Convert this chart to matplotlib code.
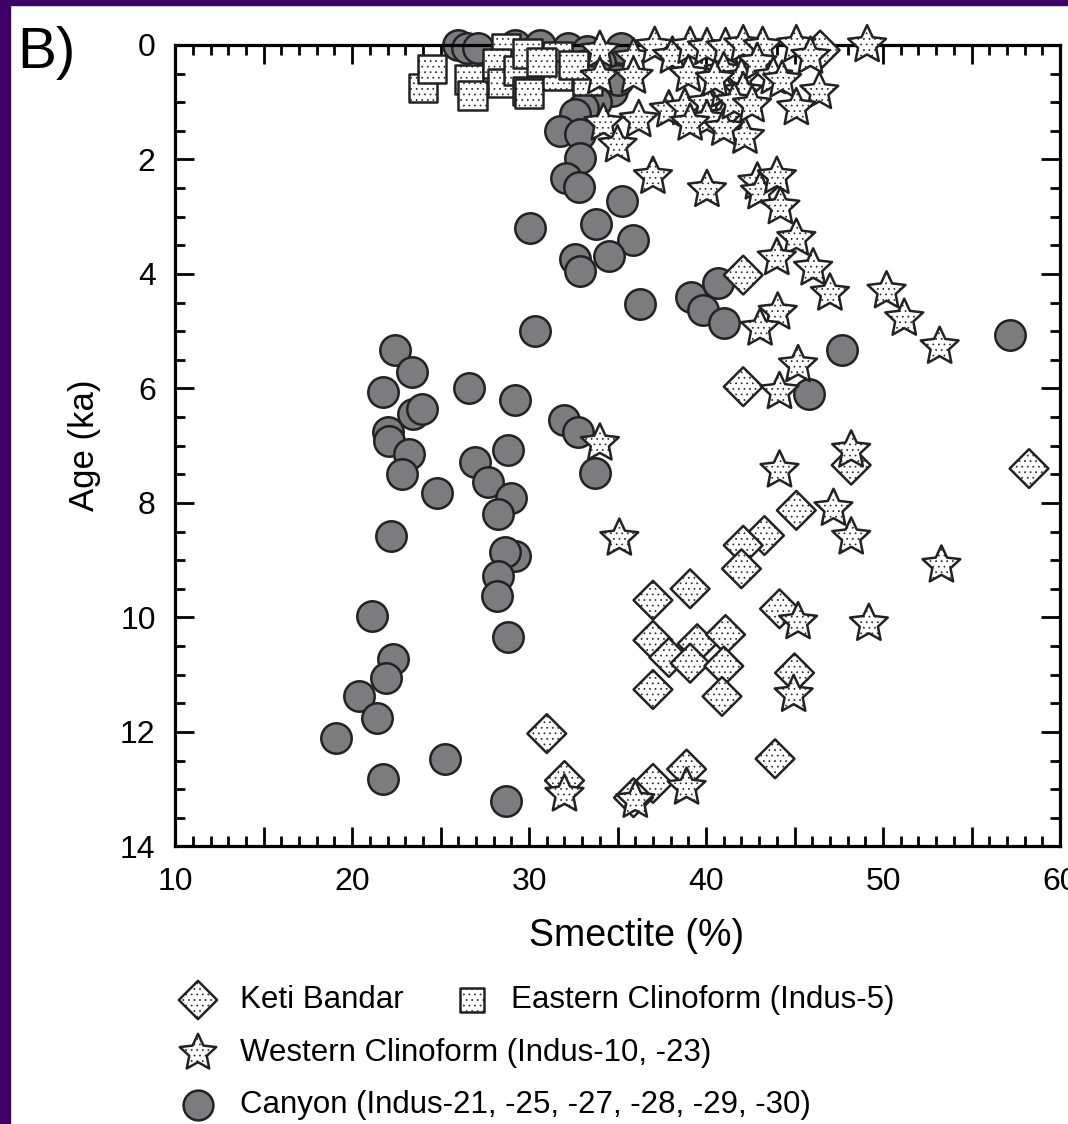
import matplotlib.pyplot as plt
from matplotlib.patches import Rectangle
from matplotlib.path import Path

plt.rcParams['font.family'] = ['Liberation Sans', 'DejaVu Sans']
plt.rcParams['hatch.color'] = '#5a5a5a'
plt.rcParams['hatch.linewidth'] = 0.5

# smectite (%) and age (ka)
keti_x = [46.45, 42.1, 42.1, 48.2, 58.25, 45.1, 43.3, 42.1, 42.0, 39.1, 37.0, 44.15,
          37.0, 39.5, 41.1, 37.9, 39.1, 41.0, 45.0, 40.9, 37.0, 31.0, 43.9, 32.0,
          38.9, 37.0, 35.9]
keti_y = [0.09, 4.02, 5.97, 7.34, 7.4, 8.13, 8.57, 8.74, 9.15, 9.5, 9.7, 9.85,
          10.4, 10.46, 10.3, 10.7, 10.8, 10.85, 10.97, 11.38, 11.26, 12.03, 12.47, 12.85,
          12.65, 12.9, 13.15]

east_x = [24.0, 24.5, 26.6, 26.8, 28.7, 28.2, 28.5, 29.4, 29.9, 29.9, 30.0, 31.6,
          31.6, 33.3, 30.7, 32.5]
east_y = [0.75, 0.42, 0.6, 0.88, 0.05, 0.32, 0.66, 0.45, 0.15, 0.8, 0.85, 0.2,
          0.53, 0.62, 0.3, 0.35]

west_x = [34.0, 34.0, 35.9, 35.9, 37.1, 38.1, 39.1, 39.0, 40.05, 41.1, 42.1, 43.2,
          45.1, 45.9, 49.1, 41.0, 42.0, 42.9, 43.8, 44.3, 46.4, 45.1, 37.9, 38.8,
          40.05, 41.0, 42.1, 41.1, 42.2, 40.05, 36.2, 34.2, 35.0, 39.1, 41.0, 40.5,
          41.6, 42.6,
          37.0, 40.05, 42.9, 43.05, 44.0, 44.2, 45.1, 44.0, 46.05, 47.0, 50.2, 51.2,
          53.2, 44.05, 43.05, 45.2, 44.15, 34.0, 48.2, 44.15, 47.2, 48.2, 35.1, 53.3,
          45.2, 49.2, 44.95, 32.0, 36.0, 38.9]
west_y = [0.1, 0.56, 0.23, 0.55, 0.03, 0.2, 0.03, 0.52, 0.05, 0.05, 0.0, 0.03,
          0.0, 0.2, 0.0, 0.47, 0.58, 0.31, 0.56, 0.62, 0.82, 1.1, 1.14, 1.1,
          1.02, 0.79, 0.82, 1.26, 1.6, 1.31, 1.31, 1.37, 1.75, 1.37, 1.46, 0.6,
          1.0, 1.05,
          2.3, 2.53, 2.4, 2.57, 2.3, 2.83, 3.38, 3.72, 3.9, 4.34, 4.3, 4.78,
          5.27, 4.67, 4.95, 5.59, 6.06, 6.96, 7.08, 7.43, 8.1, 8.6, 8.62, 9.09,
          10.08, 10.11, 11.35, 13.09, 13.2, 12.97]

canyon_x = [26.0, 26.5, 27.1, 29.2, 30.6, 32.2, 33.3, 35.2, 34.0, 33.2, 34.7, 35.0,
            33.8, 33.05, 32.6, 31.75, 32.9, 32.9, 32.1, 32.8, 35.25, 30.05, 33.8, 35.9,
            34.5, 32.6, 32.9, 36.25, 39.15, 40.65, 39.85, 41.0, 30.35, 47.7, 57.2, 45.8,
            22.4, 23.4, 21.75, 26.6, 29.2, 22.0, 22.1, 23.45, 23.95, 23.2, 22.8, 24.8,
            26.95, 28.8, 27.7, 29.0, 28.25, 22.2, 29.2, 28.65, 28.25, 28.2, 21.1, 28.8,
            31.95, 32.75, 33.7, 22.3, 21.9, 20.4, 21.4, 19.1, 21.75, 25.25, 28.7]
canyon_y = [0.0, 0.05, 0.05, 0.0, 0.0, 0.05, 0.1, 0.05, 0.3, 0.35, 0.8, 0.62,
            1.0, 1.1, 1.2, 1.5, 1.55, 1.98, 2.33, 2.48, 2.73, 3.2, 3.13, 3.41,
            3.69, 3.74, 3.95, 4.53, 4.4, 4.16, 4.63, 4.86, 5.0, 5.33, 5.07, 6.1,
            5.33, 5.72, 6.07, 6.0, 6.2, 6.77, 6.92, 6.44, 6.36, 7.14, 7.49, 7.83,
            7.28, 7.08, 7.64, 7.92, 8.2, 8.57, 8.93, 8.86, 9.28, 9.62, 9.98, 10.35,
            6.55, 6.76, 7.47, 10.72, 11.05, 11.38, 11.76, 12.1, 12.83, 12.47, 13.2]

labels = ['Keti Bandar', 'Eastern Clinoform (Indus-5)',
          'Western Clinoform (Indus-10, -23)',
          'Canyon (Indus-21, -25, -27, -28, -29, -30)']

edge = '#222222'
grey = '#7c7c7e'
purple = '#3f0068'
star = Path.unit_regular_star(5, innerCircle=0.48)

fig = plt.figure(figsize=(10.68, 11.24), dpi=100)
ax = fig.add_axes([0.164, 0.247, 0.8285, 0.713])

ax.scatter(canyon_x, canyon_y, s=480, marker='o', facecolor=grey, edgecolor=edge,
           linewidth=1.8, clip_on=False, zorder=2)
ax.scatter(east_x, east_y, s=420, marker='s', facecolor='white', edgecolor=edge,
           linewidth=1.8, hatch='...', clip_on=False, zorder=3)
ax.scatter(keti_x, keti_y, s=390, marker='D', facecolor='white', edgecolor=edge,
           linewidth=1.8, hatch='...', clip_on=False, zorder=4)
ax.scatter(west_x, west_y, s=820, marker=star, facecolor='white', edgecolor=edge,
           linewidth=1.8, hatch='...', clip_on=False, zorder=5)

ax.set_xlim(10, 60)
ax.set_ylim(14, 0)
ax.set_xticks(range(10, 61, 5))
ax.set_xticklabels(['10', '', '20', '', '30', '', '40', '', '50', '', '60'])
ax.set_xticks(range(10, 61), minor=True)
ax.set_yticks(range(0, 15, 2))
ax.set_yticks([i * 0.5 for i in range(29)], minor=True)
ax.tick_params(which='both', direction='in', top=True, right=True, width=2,
               labelsize=23, colors='black')
ax.tick_params(which='major', length=14, pad=14)
ax.tick_params(which='minor', length=7)
ax.tick_params(axis='x', which='major', pad=15)
for sp in ax.spines.values():
    sp.set_linewidth(2.3)

ax.set_xlabel('Smectite (%)', fontsize=27)
ax.xaxis.set_label_coords((636 - 175) / 885, -(918 - 846) / 801)
ax.set_ylabel('Age (ka)', fontsize=25, labelpad=14)
fig.text(0.016, 0.953, 'B)', fontsize=42, ha='left', va='center')

# legend drawn in a pixel-space overlay
lax = fig.add_axes([0, 0, 1, 1], zorder=-1)
lax.set_xlim(0, 1068)
lax.set_ylim(1124, 0)
lax.axis('off')
key_x = [198, 472, 198, 198]
key_y = [1000, 1000, 1053, 1105]
txt_x = [240, 511, 240, 240]
styles = [dict(marker='D', s=380, facecolor='white', hatch='...'),
          dict(marker='s', s=320, facecolor='white', hatch='...'),
          dict(marker=star, s=760, facecolor='white', hatch='...'),
          dict(marker='o', s=460, facecolor=grey)]
for kx, ky, tx, lab, st in zip(key_x, key_y, txt_x, labels, styles):
    lax.scatter([kx], [ky], edgecolor=edge, linewidth=1.8, clip_on=False, **st)
    lax.text(tx, ky, lab, fontsize=22.5, va='center', ha='left')

fig.patches.append(Rectangle((0, 0), 10 / 1068, 1, transform=fig.transFigure,
                             color=purple, zorder=10))
fig.patches.append(Rectangle((0, 1 - 5 / 1124), 1, 5 / 1124, transform=fig.transFigure,
                             color=purple, zorder=10))

fig.savefig('out.png', dpi=100)
